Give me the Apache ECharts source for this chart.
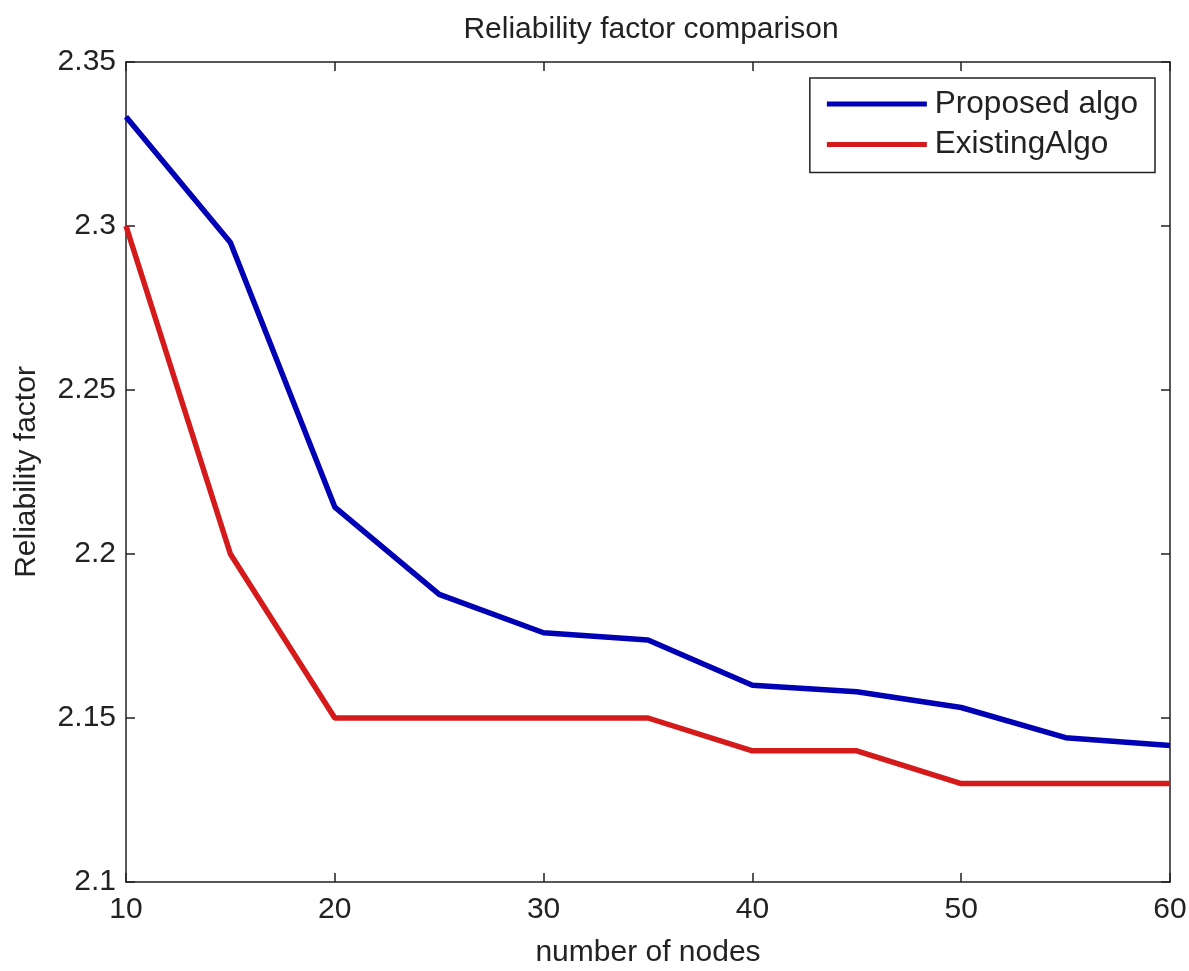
<!DOCTYPE html>
<html>
<head>
<meta charset="utf-8">
<script src="https://cdn.jsdelivr.net/npm/echarts@6/dist/echarts.min.js"></script>
<style>
  html, body { margin: 0; padding: 0; background: #fff; }
  #chart { width: 1189px; height: 971px; }
</style>
</head>
<body>
<div id="chart"></div>
<script>
// 横軸（ノード数）
const nodes = [10, 15, 20, 25, 30, 35, 40, 45, 50, 55, 60];

// 提案アルゴリズムの信頼性係数
const proposedAlgo = [2.3333, 2.2950, 2.2143, 2.1877, 2.1760, 2.1738, 2.1600, 2.1580, 2.1532, 2.1440, 2.1416];

// 既存アルゴリズムの信頼性係数
const existingAlgo = [2.30, 2.20, 2.15, 2.15, 2.15, 2.15, 2.14, 2.14, 2.13, 2.13, 2.13];

const seriesNames = ['Proposed algo', 'ExistingAlgo'];

const chart = echarts.init(document.querySelector('#chart'));

const font = 'Liberation Sans, Arial, sans-serif';

// 枠線と内向きの目盛り（MATLAB風）
const axisCommon = {
  axisLine: { show: true, onZero: false, lineStyle: { color: '#222', width: 1.5 } },
  axisTick: { show: true, inside: true, length: 9, lineStyle: { color: '#222', width: 1.5 } },
  splitLine: { show: false }
};

const option = {
  backgroundColor: '#fff',
  animation: false,
  title: {
    text: 'Reliability factor comparison',
    left: 646,
    textAlign: 'center',
    top: 10,
    textStyle: { fontFamily: font, fontWeight: 'normal', fontSize: 30, color: '#222' }
  },
  legend: {
    orient: 'vertical',
    right: 34,
    top: 78,
    backgroundColor: '#fff',
    borderColor: '#222',
    borderWidth: 1.5,
    borderRadius: 0,
    padding: [10, 17, 12, 17],
    itemGap: 8.5,
    itemWidth: 100,
    itemHeight: 5,
    icon: 'rect',
    textStyle: { fontFamily: font, fontSize: 31.5, color: '#222', padding: [0, 0, 0, 3] },
    data: seriesNames
  },
  grid: { left: 126, right: 19, top: 62, bottom: 89, outerBoundsMode: 'none', containLabel: false },
  xAxis: [
    {
      ...axisCommon,
      type: 'value',
      min: 10, max: 60, interval: 10,
      name: 'number of nodes',
      nameLocation: 'middle',
      nameGap: 56,
      nameTextStyle: { fontFamily: font, fontSize: 30, color: '#222' },
      axisLabel: { fontFamily: font, fontSize: 30, color: '#222', margin: 13 }
    },
    {
      ...axisCommon,
      type: 'value',
      position: 'top',
      min: 10, max: 60, interval: 10,
      axisLabel: { show: false }
    }
  ],
  yAxis: [
    {
      ...axisCommon,
      type: 'value',
      min: 2.1, max: 2.35, interval: 0.05,
      name: 'Reliability factor',
      nameLocation: 'middle',
      nameGap: 84,
      nameTextStyle: { fontFamily: font, fontSize: 30, color: '#222' },
      axisLabel: {
        fontFamily: font, fontSize: 30, color: '#222', margin: 10,
        formatter: v => String(+v.toFixed(2))
      }
    },
    {
      ...axisCommon,
      type: 'value',
      position: 'right',
      min: 2.1, max: 2.35, interval: 0.05,
      axisLabel: { show: false }
    }
  ],
  series: [
    {
      name: seriesNames[0],
      type: 'line',
      data: nodes.map((n, i) => [n, proposedAlgo[i]]),
      showSymbol: false,
      color: '#0000b4',
      lineStyle: { width: 5.5, color: '#0000b4' }
    },
    {
      name: seriesNames[1],
      type: 'line',
      data: nodes.map((n, i) => [n, existingAlgo[i]]),
      showSymbol: false,
      color: '#d41a1a',
      lineStyle: { width: 5.5, color: '#d41a1a' }
    }
  ]
};

chart.setOption(option);
</script>
</body>
</html>
